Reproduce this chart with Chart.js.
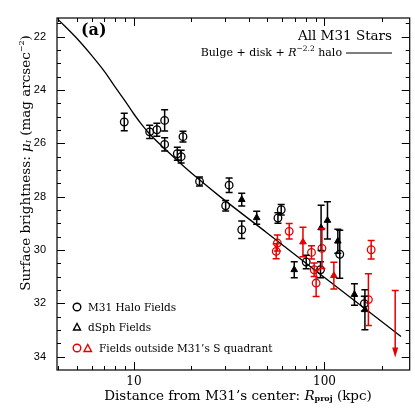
<!DOCTYPE html>
<html>
<head>
<meta charset="utf-8">
<script src="https://cdn.jsdelivr.net/npm/chart.js@4/dist/chart.umd.min.js"></script>
<style>
  body { margin: 0; background: #fff; }
  canvas { display: block; }
</style>
</head>
<body>
<canvas id="sbChart" width="415" height="415"></canvas>
<script>
// Model curve: bulge + disk + R^-2.2 halo
const modelR = [4.0, 5.0, 6.0, 7.0, 8.0, 9.0, 10.0, 11.0, 12.0, 15.0, 18.0, 22.0, 28.0, 50.0, 100.0, 252];
const modelMu = [21.35, 22.05, 22.7, 23.3, 23.9, 24.42, 24.9, 25.3, 25.62, 26.3, 26.82, 27.36, 27.97, 29.36, 31.03, 33.24];

// M31 halo fields (open black circles)
const haloR = [8.9, 12.1, 13.2, 14.5, 14.5, 18.1, 16.9, 17.7, 22.1, 31.6, 30.3, 36.8, 59.3, 57.0, 80.2, 95.3, 120.3, 161.9];
const haloMu = [25.2, 25.57, 25.49, 25.14, 26.04, 25.75, 26.39, 26.5, 27.43, 27.57, 28.34, 29.24, 28.49, 28.8, 30.45, 30.74, 30.16, 32.01];
const haloErr = [0.33, 0.25, 0.24, 0.4, 0.25, 0.2, 0.24, 0.24, 0.17, 0.27, 0.2, 0.33, 0.2, 0.2, 0.25, 0.3, 0.9, 0.28];

// dSph fields (filled black triangles)
const dsphR = [36.8, 44.1, 69.4, 96.0, 103.7, 117.5, 143.6, 163.0];
const dsphMu = [28.11, 28.79, 30.74, 29.17, 28.89, 29.67, 31.67, 32.24];
const dsphErr = [0.24, 0.24, 0.3, 0.85, 0.7, 0.45, 0.4, 0.75];

// Fields outside M31's S quadrant (red)
const outCircR = [65.3, 56.6, 55.8, 85.5, 88.3, 90.4, 97.0, 175.8, 170.0];
const outCircMu = [29.3, 29.74, 30.05, 30.09, 30.74, 31.24, 29.94, 29.99, 31.86];
const outCircErr = [0.29, 0.3, 0.28, 0.25, 0.25, 0.5, 0.75, 0.35, 0.97];

const outTriR = [77.1, 112.0];
const outTriMu = [29.7, 30.96];
const outTriErr = [0.55, 0.5];

// upper limit (red arrow)
const limR = [235];
const limMu = [31.52];
const limEnd = [34.03];

// axis ticks
const xTicks = [10, 100];
const yTicks = [22, 24, 26, 28, 30, 32, 34];

const SERIF = '"DejaVu Serif", serif';
const RED = '#e60000';

function pts(xs, ys) { return xs.map((x, i) => ({ x: x, y: ys[i] })); }

// error bars, drawn through the library's scales
const errorBars = {
  id: 'errorBars',
  afterDatasetsDraw(chart) {
    const ctx = chart.ctx, xs = chart.scales.x, ys = chart.scales.y;
    ctx.save();
    chart.data.datasets.forEach(ds => {
      if (!ds.err) return;
      ctx.strokeStyle = ds.barColor;
      ctx.lineWidth = 1.5;
      ds.data.forEach((p, i) => {
        const px = xs.getPixelForValue(p.x);
        const y1 = ys.getPixelForValue(p.y - ds.err[i]);
        const y2 = ys.getPixelForValue(p.y + ds.err[i]);
        ctx.beginPath();
        ctx.moveTo(px, y1); ctx.lineTo(px, y2);
        ctx.moveTo(px - 3.5, y1); ctx.lineTo(px + 3.5, y1);
        ctx.moveTo(px - 3.5, y2); ctx.lineTo(px + 3.5, y2);
        ctx.stroke();
      });
    });
    // upper-limit arrow
    ctx.strokeStyle = RED; ctx.fillStyle = RED;
    limR.forEach((r, i) => {
      const px = xs.getPixelForValue(r);
      const y1 = ys.getPixelForValue(limMu[i]);
      const y2 = ys.getPixelForValue(limEnd[i]);
      ctx.beginPath();
      ctx.moveTo(px - 3.5, y1); ctx.lineTo(px + 3.5, y1);
      ctx.moveTo(px, y1); ctx.lineTo(px, y2 - 8);
      ctx.stroke();
      ctx.beginPath();
      ctx.moveTo(px - 3, y2 - 10); ctx.lineTo(px + 3, y2 - 10); ctx.lineTo(px, y2);
      ctx.closePath(); ctx.fill();
    });
    ctx.restore();
  }
};

// frame with inward ticks on all sides
const frame = {
  id: 'frame',
  afterDraw(chart) {
    const ctx = chart.ctx, a = chart.chartArea, xs = chart.scales.x, ys = chart.scales.y;
    ctx.save();
    ctx.strokeStyle = '#000';
    ctx.lineWidth = 1.2;
    ctx.strokeRect(a.left, a.top, a.right - a.left, a.bottom - a.top);
    ctx.lineWidth = 1;
    ctx.beginPath();
    for (let v = 21.5; v <= 34.5; v += 0.5) {
      const py = Math.round(ys.getPixelForValue(v)) + 0.5;
      if (py <= a.top + 1 || py >= a.bottom - 1) continue;
      const len = yTicks.includes(v) ? 8 : 4;
      ctx.moveTo(a.left, py); ctx.lineTo(a.left + len, py);
      ctx.moveTo(a.right, py); ctx.lineTo(a.right - len, py);
    }
    [1, 10, 100].forEach(dec => {
      for (let m = 1; m <= 9; m++) {
        const v = m * dec;
        if (v < xs.min || v > xs.max) continue;
        const px = Math.round(xs.getPixelForValue(v)) + 0.5;
        if (px <= a.left + 1 || px >= a.right - 1) continue;
        const len = m === 1 ? 8 : 4;
        ctx.moveTo(px, a.bottom); ctx.lineTo(px, a.bottom - len);
        ctx.moveTo(px, a.top); ctx.lineTo(px, a.top + len);
      }
    });
    ctx.stroke();
    ctx.restore();
  }
};

// draw a run of text pieces (normal / sub / super) side by side
function richText(ctx, parts, x, y, align) {
  let w = 0;
  parts.forEach(p => { ctx.font = p.font; w += ctx.measureText(p.t).width; });
  let cx = align === 'center' ? x - w / 2 : (align === 'right' ? x - w : x);
  ctx.textAlign = 'left';
  ctx.textBaseline = 'middle';
  parts.forEach(p => {
    ctx.font = p.font;
    ctx.fillText(p.t, cx, y + (p.dy || 0));
    cx += ctx.measureText(p.t).width;
  });
  return w;
}

const annotations = {
  id: 'annotations',
  afterDraw(chart) {
    const ctx = chart.ctx;
    ctx.save();
    ctx.fillStyle = '#000';

    ctx.font = 'bold 16px ' + SERIF;
    ctx.textAlign = 'left'; ctx.textBaseline = 'middle';
    ctx.fillText('(a)', 81, 31);

    ctx.font = '13.5px ' + SERIF;
    ctx.textAlign = 'right';
    ctx.fillText('All M31 Stars', 392, 36);

    const f = '11px ' + SERIF;
    richText(ctx, [
      { t: 'Bulge + disk + ', font: f },
      { t: 'R', font: 'italic 11px ' + SERIF },
      { t: '\u22122.2', font: '7.5px ' + SERIF, dy: -4 },
      { t: ' halo', font: f }
    ], 342, 53, 'right');
    ctx.strokeStyle = '#000'; ctx.lineWidth = 1.2;
    ctx.beginPath(); ctx.moveTo(346, 53); ctx.lineTo(392, 53); ctx.stroke();

    // legend
    ctx.lineWidth = 1.4;
    ctx.strokeStyle = '#000'; ctx.fillStyle = '#000';
    ctx.beginPath(); ctx.arc(77, 307, 3.8, 0, Math.PI * 2); ctx.stroke();
    ctx.beginPath(); ctx.moveTo(73.5, 330); ctx.lineTo(80.5, 330); ctx.lineTo(77, 323.5); ctx.closePath(); ctx.stroke();
    ctx.strokeStyle = RED;
    ctx.beginPath(); ctx.arc(77, 348, 3.8, 0, Math.PI * 2); ctx.stroke();
    ctx.beginPath(); ctx.moveTo(84, 351.5); ctx.lineTo(91.5, 351.5); ctx.lineTo(87.75, 344.5); ctx.closePath(); ctx.stroke();
    ctx.fillStyle = '#000';
    ctx.font = '10.5px ' + SERIF; ctx.textAlign = 'left'; ctx.textBaseline = 'middle';
    ctx.fillText('M31 Halo Fields', 88, 308);
    ctx.fillText('dSph Fields', 88, 328);
    ctx.fillText('Fields outside M31\u2019s S quadrant', 99, 349);

    // x axis title
    const tf = '13.5px ' + SERIF;
    richText(ctx, [
      { t: 'Distance from M31\u2019s center: ', font: tf },
      { t: 'R', font: 'italic 13.5px ' + SERIF },
      { t: 'proj', font: 'bold 8px ' + SERIF, dy: 3 },
      { t: ' (kpc)', font: tf }
    ], 238, 396, 'center');

    // y axis title
    ctx.translate(26, 163);
    ctx.rotate(-Math.PI / 2);
    richText(ctx, [
      { t: 'Surface brightness: ', font: tf },
      { t: '\u03bc', font: 'italic 13.5px ' + SERIF },
      { t: 'I', font: 'italic 8px ' + SERIF, dy: 3 },
      { t: ' (mag arcsec', font: tf },
      { t: '\u22122', font: '8px ' + SERIF, dy: -4 },
      { t: ')', font: tf }
    ], 0, 0, 'center');
    ctx.restore();
  }
};

const config = {
  type: 'scatter',
  data: {
    datasets: [
      {
        label: 'Bulge + disk + R^-2.2 halo',
        data: pts(modelR, modelMu),
        showLine: true,
        borderColor: '#000',
        borderWidth: 1.3,
        pointRadius: 0,
        cubicInterpolationMode: 'monotone'
      },
      {
        label: 'M31 Halo Fields',
        data: pts(haloR, haloMu),
        err: haloErr, barColor: '#000',
        pointStyle: 'circle', pointRadius: 3.8,
        backgroundColor: 'rgba(0,0,0,0)', borderColor: '#000', borderWidth: 1.3
      },
      {
        label: 'dSph Fields',
        data: pts(dsphR, dsphMu),
        err: dsphErr, barColor: '#000',
        pointStyle: 'triangle', pointRadius: 3.8,
        backgroundColor: '#000', borderColor: '#000', borderWidth: 1
      },
      {
        label: 'Fields outside M31\u2019s S quadrant (circles)',
        data: pts(outCircR, outCircMu),
        err: outCircErr, barColor: RED,
        pointStyle: 'circle', pointRadius: 3.8,
        backgroundColor: 'rgba(0,0,0,0)', borderColor: RED, borderWidth: 1.3
      },
      {
        label: 'Fields outside M31\u2019s S quadrant (triangles)',
        data: pts(outTriR, outTriMu),
        err: outTriErr, barColor: RED,
        pointStyle: 'triangle', pointRadius: 3.8,
        backgroundColor: RED, borderColor: RED, borderWidth: 1
      }
    ]
  },
  options: {
    responsive: false,
    animation: false,
    layout: { padding: { top: 18, right: 4, left: 0, bottom: 0 } },
    plugins: {
      legend: { display: false },
      title: { display: false },
      tooltip: { enabled: false }
    },
    scales: {
      x: {
        type: 'logarithmic',
        min: 3.95,
        max: 280,
        grid: { display: false, drawTicks: false },
        border: { display: false },
        afterBuildTicks: s => { s.ticks = xTicks.map(v => ({ value: v })); },
        afterFit: s => { s.height = 45; },
        ticks: {
          autoSkip: false, maxRotation: 0, padding: 5,
          color: '#000', font: { family: SERIF, size: 12 },
          callback: v => String(v)
        }
      },
      y: {
        type: 'linear',
        reverse: true,
        min: 21.3,
        max: 34.5,
        grid: { display: false, drawTicks: false },
        border: { display: false },
        afterBuildTicks: s => { s.ticks = yTicks.map(v => ({ value: v })); },
        afterFit: s => { s.width = 57; },
        ticks: {
          padding: 11,
          color: '#000', font: { family: '"Liberation Sans", Arial, sans-serif', size: 11 }
        }
      }
    }
  },
  plugins: [errorBars, frame, annotations]
};

const sbChart = new Chart(document.getElementById('sbChart'), config);
</script>
</body>
</html>
